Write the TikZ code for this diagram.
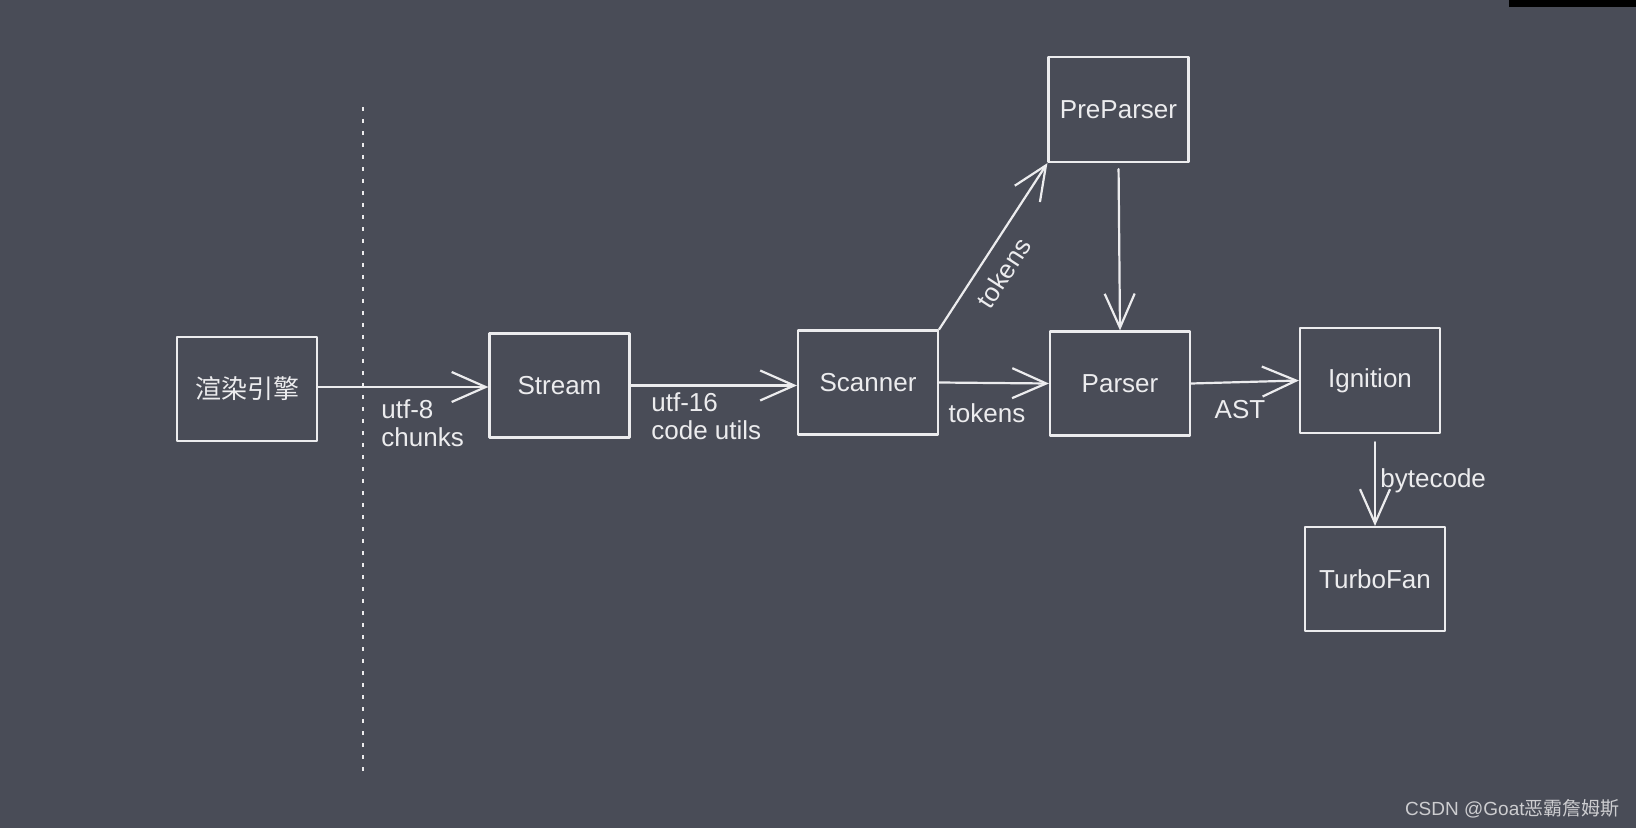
\documentclass[tikz,border=0pt]{standalone}
\usepackage{fontspec}
\setmainfont{Liberation Sans}
\newfontfamily\cjk{Noto Sans CJK SC}
\usetikzlibrary{arrows.meta}
\definecolor{bgslate}{RGB}{73,76,87}
\definecolor{chalk}{RGB}{236,236,238}
\definecolor{markgray}{RGB}{205,205,208}

\begin{document}
\begin{tikzpicture}[x=0.5pt, y=-0.5pt, line join=round, line cap=round,
  >={Straight Barb[length=17pt,width=15pt]}, font=\fontsize{13}{14}\selectfont,
  box/.style={draw=chalk, line width=1.1pt, minimum width=70pt, minimum height=52pt, inner sep=0pt, text=chalk},
  lbl/.style={text=chalk, inner sep=0pt, align=left},
  flow/.style={->, draw=chalk, line width=1.1pt}]
	%background and frame
	\fill[bgslate] (0,0) rectangle (1636,828);
	\useasboundingbox (0,0) rectangle (1636,828);
	\fill[black] (1509,0) rectangle (1636,7);
	\draw[chalk, line width=1.4pt, dash pattern=on 2pt off 4pt, line cap=butt] (363,107) -- (363,774);
	%boxes
	\node[box] (render) at (247,389) {\cjk 渲染引擎};
	\node[box] (stream) at (559.5,385.5) {Stream};
	\node[box] (scanner) at (868,382.5) {Scanner};
	\node[box, minimum height=52.5pt] (preparser) at (1118.5,109.5) {PreParser};
	\node[box] (parser) at (1120,383.5) {Parser};
	\node[box, minimum height=52.5pt] (ignition) at (1370,380.5) {Ignition};
	\node[box] (turbofan) at (1375,579) {TurboFan};
	%connectors
	\draw[flow] ([yshift=1pt]render.east) -- ([yshift=1pt]render.east -| stream.west);
	\draw[flow] (stream.east) -- ([yshift=-1.5pt]scanner.west);
	\draw[flow] (scanner.east) -- (parser.west);
	\draw[flow] (scanner.north east) -- (preparser.south west);
	\draw[flow, shorten <=3pt] (preparser.south) -- (parser.north);
	\draw[flow] (parser.east) -- (ignition.west);
	\draw[flow, shorten <=4pt] (turbofan.north |- ignition.south) -- (turbofan.north);
	%labels
	\node[lbl, anchor=west] (chunks) at (381,423) {utf-8\\chunks};
	\node[lbl, anchor=west] (utils) at (651,416) {utf-16\\code utils};
	\node[lbl] (tok) at (987,413) {tokens};
	\node[lbl, rotate=57] (toktop) at (1004,273) {tokens};
	\node[lbl] (ast) at (1240,410) {AST};
	\node[lbl, anchor=west] (bcode) at (1380,481) {bytecode};
	\node[inner sep=0pt, anchor=east, text=markgray, font=\fontsize{9.5}{11}\selectfont] (mark) at (1620,809) {CSDN @Goat{\cjk 恶霸詹姆斯}};
\end{tikzpicture}
\end{document}
